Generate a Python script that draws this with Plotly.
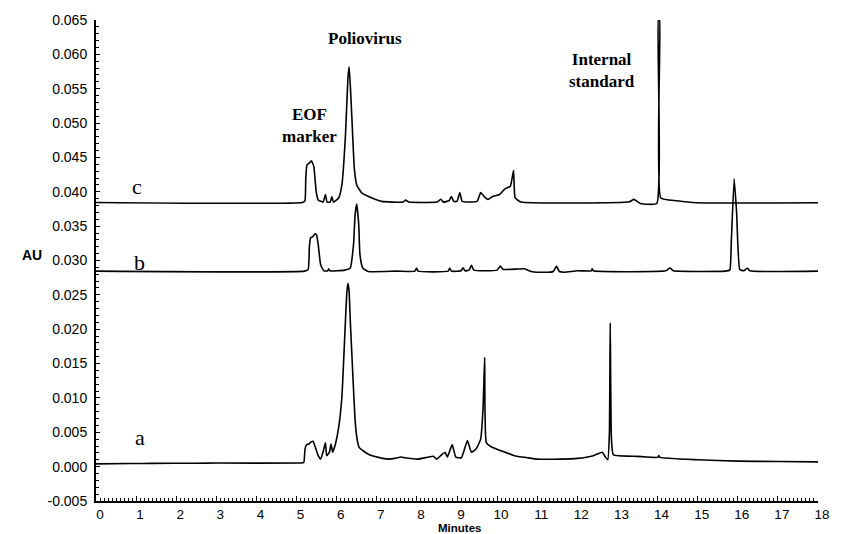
import plotly.graph_objects as go

# ---- data (minutes, AU) ----
time_a = [0.00, 0.90, 1.40, 2.50, 3.00, 5.10, 5.18, 5.21, 5.25, 5.31, 5.36, 5.41, 5.47, 5.54,
          5.60, 5.66, 5.72, 5.75, 5.82, 5.86, 5.90, 5.97, 6.05, 6.13, 6.20, 6.25, 6.28, 6.31,
          6.34, 6.41, 6.46, 6.51, 6.56, 6.79, 7.04, 7.29, 7.45, 7.60, 7.75, 8.03, 8.41, 8.49,
          8.70, 8.76, 8.88, 8.97, 9.11, 9.26, 9.36, 9.48, 9.59, 9.65, 9.69, 9.73, 9.85, 10.10,
          10.43, 10.76, 11.00, 11.60, 12.00, 12.40, 12.62, 12.70, 12.76, 12.80, 12.82, 12.85,
          12.90, 13.50, 14.00, 14.03, 14.06, 15.00, 16.00, 17.00, 18.00]
au_a = [0.00040, 0.00045, 0.00048, 0.00050, 0.00052, 0.00054, 0.00060, 0.00250, 0.00320, 0.00330,
        0.00360, 0.00370, 0.00280, 0.00160, 0.00110, 0.00210, 0.00350, 0.00160, 0.00210, 0.00330,
        0.00210, 0.00330, 0.00570, 0.01010, 0.01880, 0.02500, 0.02670, 0.02550, 0.02120, 0.01250,
        0.00670, 0.00400, 0.00280, 0.00180, 0.00135, 0.00110, 0.00120, 0.00140, 0.00125, 0.00110,
        0.00150, 0.00110, 0.00210, 0.00140, 0.00320, 0.00140, 0.00130, 0.00380, 0.00210, 0.00260,
        0.00400, 0.00860, 0.01590, 0.00350, 0.00290, 0.00230, 0.00160, 0.00130, 0.00110, 0.00110,
        0.00120, 0.00160, 0.00210, 0.00140, 0.00100, 0.00500, 0.02090, 0.00400, 0.00170, 0.00150,
        0.00135, 0.00160, 0.00135, 0.00100, 0.00080, 0.00075, 0.00070]

time_b = [0.00, 5.20, 5.29, 5.32, 5.35, 5.41, 5.46, 5.50, 5.54, 5.60, 5.68, 5.78, 5.80, 5.83,
          6.20, 6.34, 6.42, 6.46, 6.50, 6.55, 6.58, 6.65, 6.79, 7.50, 7.95, 7.99, 8.03, 8.78,
          8.82, 8.86, 9.10, 9.15, 9.20, 9.30, 9.36, 9.42, 10.00, 10.08, 10.15, 10.68, 10.85,
          11.01, 11.40, 11.48, 11.55, 11.67, 12.00, 12.35, 12.37, 12.40, 14.20, 14.31, 14.40,
          15.68, 15.80, 15.84, 15.91, 15.97, 16.05, 16.15, 16.24, 16.30, 18.00]
au_b = [0.02845, 0.02845, 0.02870, 0.03200, 0.03330, 0.03350, 0.03390, 0.03370, 0.03230, 0.02940,
        0.02850, 0.02850, 0.02880, 0.02850, 0.02860, 0.02890, 0.03230, 0.03670, 0.03820, 0.03520,
        0.03090, 0.02890, 0.02840, 0.02845, 0.02845, 0.02890, 0.02845, 0.02845, 0.02890, 0.02845,
        0.02850, 0.02895, 0.02850, 0.02860, 0.02930, 0.02860, 0.02860, 0.02920, 0.02870, 0.02880,
        0.02840, 0.02830, 0.02840, 0.02920, 0.02840, 0.02830, 0.02850, 0.02850, 0.02880, 0.02850,
        0.02850, 0.02890, 0.02850, 0.02845, 0.02860, 0.03300, 0.04190, 0.03710, 0.02870, 0.02850,
        0.02890, 0.02850, 0.02845]

time_c = [0.00, 5.15, 5.21, 5.23, 5.26, 5.32, 5.37, 5.43, 5.49, 5.54, 5.66, 5.72, 5.76, 5.84,
          5.88, 5.92, 6.05, 6.13, 6.22, 6.28, 6.31, 6.34, 6.38, 6.44, 6.50, 6.63, 6.88, 7.12,
          7.65, 7.72, 7.80, 8.50, 8.60, 8.66, 8.80, 8.86, 8.92, 9.00, 9.07, 9.13, 9.50, 9.59,
          9.68, 9.77, 9.89, 10.06, 10.19, 10.33, 10.41, 10.45, 10.60, 13.30, 13.41, 13.57,
          13.98, 14.02, 14.05, 14.08, 14.48, 14.98, 18.00]
au_c = [0.03845, 0.03845, 0.03870, 0.04200, 0.04390, 0.04420, 0.04450, 0.04370, 0.04000, 0.03880,
        0.03850, 0.03960, 0.03850, 0.03850, 0.03930, 0.03850, 0.03910, 0.04100, 0.04830, 0.05650,
        0.05820, 0.05550, 0.05070, 0.04340, 0.04100, 0.03980, 0.03910, 0.03860, 0.03850, 0.03880,
        0.03850, 0.03850, 0.03890, 0.03850, 0.03870, 0.03930, 0.03860, 0.03860, 0.03990, 0.03860,
        0.03860, 0.03990, 0.03930, 0.03890, 0.03930, 0.03960, 0.04040, 0.04080, 0.04310, 0.03910,
        0.03850, 0.03855, 0.03890, 0.03830, 0.03830, 0.06500, 0.06500, 0.03910, 0.03870, 0.03840,
        0.03840]

trace_labels = ["a", "b", "c"]
peak_labels = ["Poliovirus", "EOF<br>marker", "Internal<br>standard"]

# ---- figure ----
W, H = 842, 534
L, R, T, B = 96, 20, 18, 32

fig = go.Figure()
line = dict(color="black", width=1.6, shape="spline", smoothing=0.4)
for t, v in [(time_a, au_a), (time_b, au_b), (time_c, au_c)]:
    fig.add_trace(go.Scatter(x=t, y=v, mode="lines", line=line, showlegend=False,
                             hoverinfo="skip"))

def px_to_paper(px, py):
    return (px - L) / (W - L - R), (H - B - py) / (H - T - B)

serif = "Liberation Serif, Times New Roman, serif"
sans = "Arial, Liberation Sans, sans-serif"

annots = []
def add_text(txt, px, py, font):
    x, y = px_to_paper(px, py)
    annots.append(dict(text=txt, x=x, y=y, xref="paper", yref="paper", showarrow=False,
                       xanchor="center", yanchor="middle", font=font, borderpad=0))

for txt, (px, py) in zip(trace_labels, [(140, 438), (140, 262), (137, 186)]):
    add_text(txt, px, py, dict(family=serif, size=22, color="black"))
for txt, (px, py) in zip(peak_labels, [(366, 37), (311, 124), (605, 69)]):
    add_text("<b>" + txt + "</b>", px, py, dict(family=serif, size=17, color="black"))
add_text("<b>AU</b>", 32, 254, dict(family=sans, size=14, color="black"))
add_text("<b>Minutes</b>", 462, 529, dict(family=sans, size=11.5, color="black"))

fig.update_layout(
    width=W, height=H,
    margin=dict(l=L, r=R, t=T, b=B),
    paper_bgcolor="white", plot_bgcolor="white",
    annotations=annots,
    xaxis=dict(range=[0, 18], tickmode="linear", tick0=0, dtick=1,
               showline=True, linecolor="black", linewidth=2, showgrid=False, zeroline=False,
               ticks="inside", ticklen=5, tickwidth=1, tickcolor="black",
               minor=dict(tickmode="linear", tick0=0, dtick=0.1, ticks="inside", ticklen=3,
                          tickcolor="black", tickwidth=1, showgrid=False),
               tickfont=dict(family=sans, size=13.5, color="black"), ticklabelshift=4,
               ticklabelstandoff=0),
    yaxis=dict(range=[-0.005, 0.065], tickmode="linear", tick0=0, dtick=0.005,
               tickformat=".3f", labelalias={"\u22120.005": "-0.005"},
               showline=True, linecolor="black", linewidth=2, showgrid=False, zeroline=False,
               ticks="inside", ticklen=4, tickwidth=1, tickcolor="black",
               minor=dict(tickmode="linear", tick0=0, dtick=0.001, ticks="inside", ticklen=3,
                          tickcolor="black", tickwidth=1, showgrid=False),
               tickfont=dict(family=sans, size=14, color="black"), ticklabelstandoff=4),
)

fig.write_html("out.html")
